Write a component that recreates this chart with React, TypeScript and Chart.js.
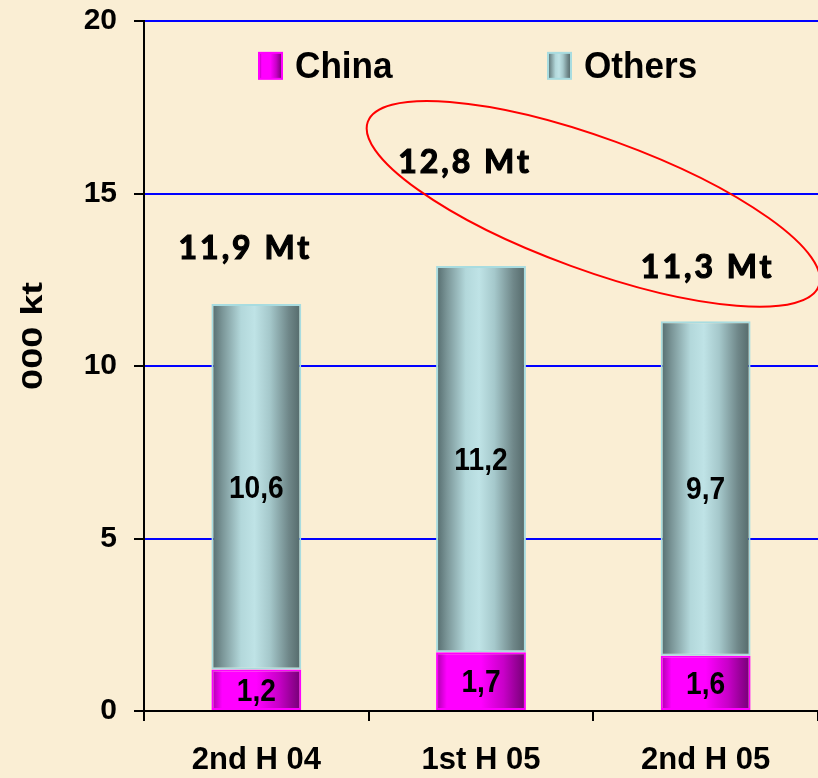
import React, { useEffect, useRef } from "react";
import { Chart, registerables } from "chart.js";

Chart.register(...registerables);

const categories = ["2nd H 04", "1st H 05", "2nd H 05"];
const chinaValues = [1.2, 1.7, 1.6];
const othersValues = [10.6, 11.2, 9.7];
const totalLabels = ["11,9 Mt", "12,8 Mt", "11,3 Mt"];
const totalLabelValues = [13.4, 15.9, 12.85];
const totalLabelShift = [-11, -16, 2];
const yTicks = [0, 5, 10, 15, 20];
const seriesNames = ["China", "Others"];

const BG = "#FAEED4";
const FONT = "'Liberation Sans', Arial, sans-serif";
const BAR_PCT = 0.4;

function othersGradient(ctx: CanvasRenderingContext2D, x0: number, x1: number) {
  const g = ctx.createLinearGradient(x0, 0, x1, 0);
  g.addColorStop(0, "#536a6c");
  g.addColorStop(0.12, "#7a9597");
  g.addColorStop(0.33, "#b3d8db");
  g.addColorStop(0.48, "#bfe3e6");
  g.addColorStop(0.65, "#a5c8cb");
  g.addColorStop(0.86, "#6f8789");
  g.addColorStop(1, "#536869");
  return g;
}
function chinaGradient(ctx: CanvasRenderingContext2D, x0: number, x1: number) {
  const g = ctx.createLinearGradient(x0, 0, x1, 0);
  g.addColorStop(0, "#a800a8");
  g.addColorStop(0.12, "#ff00ff");
  g.addColorStop(0.5, "#ff00ff");
  g.addColorStop(0.75, "#c800c8");
  g.addColorStop(1, "#720072");
  return g;
}

function barFill(kind: number) {
  return (c: any) => {
    const chart = c.chart;
    const fallback = kind === 0 ? "#ff00ff" : "#b8dde0";
    const xs = chart.scales && chart.scales.x;
    if (!xs || c.dataIndex === undefined) return fallback;
    const cx = xs.getPixelForValue(c.dataIndex);
    const w = (xs.width / categories.length) * BAR_PCT;
    if (!isFinite(cx) || !isFinite(w) || w <= 0) return fallback;
    return kind === 0
      ? chinaGradient(chart.ctx, cx - w / 2, cx + w / 2)
      : othersGradient(chart.ctx, cx - w / 2, cx + w / 2);
  };
}

const custom = {
  id: "custom",
  beforeDraw(chart: any) {
    const { ctx, width, height } = chart;
    ctx.save();
    ctx.fillStyle = BG;
    ctx.fillRect(0, 0, width, height);
    ctx.restore();
  },
  afterDatasetsDraw(chart: any) {
    const { ctx, scales } = chart;
    const xs = scales.x;
    const ys = scales.y;
    ctx.save();
    // value labels
    ctx.fillStyle = "#000";
    ctx.textAlign = "center";
    ctx.textBaseline = "middle";
    ctx.font = `bold 32px ${FONT}`;
    chart.data.datasets.forEach((ds: any, di: number) => {
      const meta = chart.getDatasetMeta(di);
      meta.data.forEach((el: any, i: number) => {
        const cy = (el.y + el.base) / 2;
        const txt = String(ds.data[i]).replace(".", ",");
        ctx.save();
        ctx.translate(el.x, cy + 2);
        ctx.scale(0.88, 1);
        ctx.fillText(txt, 0, 0);
        ctx.restore();
      });
    });
    // totals
    ctx.font = `bold 32px Lato, 'DejaVu Sans', sans-serif`;
    (ctx as any).letterSpacing = "3px";
    ctx.strokeStyle = "#000";
    ctx.lineWidth = 1.2;
    totalLabels.forEach((t, i) => {
      const tx = xs.getPixelForValue(i) + totalLabelShift[i];
      const ty = ys.getPixelForValue(totalLabelValues[i]);
      ctx.fillText(t, tx, ty);
      ctx.strokeText(t, tx, ty);
    });
    (ctx as any).letterSpacing = "0px";
    // ellipse
    const cx = (xs.getPixelForValue(1) + xs.getPixelForValue(2)) / 2;
    const cy = ys.getPixelForValue(14.7);
    ctx.beginPath();
    ctx.ellipse(cx, cy, 240, 66, (20 * Math.PI) / 180, 0, Math.PI * 2);
    ctx.strokeStyle = "#ff0000";
    ctx.lineWidth = 2;
    ctx.stroke();
    // legend
    const ly = ys.getPixelForValue(18.7);
    const items = [
      { name: seriesNames[0], x: 259, grad: chinaGradient, border: "#ff00ff" },
      { name: seriesNames[1], x: 548, grad: othersGradient, border: "#a8dce0" },
    ];
    ctx.textAlign = "left";
    ctx.font = `bold 37px ${FONT}`;
    items.forEach((it) => {
      ctx.fillStyle = it.grad(ctx, it.x, it.x + 23);
      ctx.fillRect(it.x, ly - 13, 23, 26);
      ctx.strokeStyle = it.border;
      ctx.lineWidth = 2;
      ctx.strokeRect(it.x, ly - 13, 23, 26);
      ctx.fillStyle = "#000";
      ctx.save();
      ctx.translate(it.x + 36, ly + 2);
      ctx.scale(0.95, 1);
      ctx.fillText(it.name, 0, 0);
      ctx.restore();
    });
    // y title
    ctx.save();
    ctx.translate(34, (chart.chartArea.top + chart.chartArea.bottom) / 2 - 30);
    ctx.rotate(-Math.PI / 2);
    ctx.scale(1.27, 1);
    ctx.textAlign = "center";
    ctx.font = `bold 30px ${FONT}`;
    ctx.fillText("000 kt", 0, 0);
    ctx.restore();
    ctx.restore();
  },
};

export default function App() {
  const ref = useRef<HTMLCanvasElement | null>(null);
  useEffect(() => {
    if (!ref.current) return;
    const chart = new Chart(ref.current, {
      type: "bar",
      data: {
        labels: categories,
        datasets: [
          {
            label: seriesNames[0],
            data: chinaValues,
            backgroundColor: barFill(0),
            borderColor: "#ff00ff",
            borderWidth: 2,
            borderSkipped: false,
          },
          {
            label: seriesNames[1],
            data: othersValues,
            backgroundColor: barFill(1),
            borderColor: "#a8dce0",
            borderWidth: 2,
            borderSkipped: false,
          },
        ],
      },
      options: {
        animation: false,
        responsive: false,
        maintainAspectRatio: false,
        devicePixelRatio: 1,
        layout: { padding: { top: 21, right: 0, left: 0, bottom: 0 } },
        datasets: { bar: { categoryPercentage: 1, barPercentage: BAR_PCT } },
        plugins: { legend: { display: false }, tooltip: { enabled: false }, title: { display: false } },
        scales: {
          x: {
            stacked: true,
            afterFit: (s: any) => {
              s.height = 67;
              s.paddingLeft = 0;
              s.paddingRight = 0;
            },
            grid: {
              offset: true,
              drawOnChartArea: false,
              color: "#000",
              tickColor: "#000",
              lineWidth: 2,
              tickLength: 10,
            },
            border: { color: "#000", width: 2 },
            ticks: {
              color: "#000",
              padding: 21,
              font: { family: FONT, size: 31, weight: "bold" },
            },
          },
          y: {
            stacked: true,
            min: 0,
            max: 20,
            afterFit: (s: any) => {
              s.width = 144;
              s.paddingTop = 0;
              s.paddingBottom = 0;
            },
            afterBuildTicks: (s: any) => {
              s.ticks = yTicks.map((v) => ({ value: v }));
            },
            grid: {
              color: "#0000ff",
              tickColor: "#000",
              lineWidth: 2,
              tickLength: 10,
            },
            border: { color: "#000", width: 2 },
            ticks: {
              color: "#000",
              padding: 17,
              font: { family: FONT, size: 30, weight: "bold" },
            },
          },
        },
      },
      plugins: [custom],
    });
    return () => chart.destroy();
  }, []);
  return (
    <div style={{ position: "fixed", left: 0, top: 0, width: 818, height: 778, background: BG }}>
      <canvas ref={ref} width={818} height={778} style={{ width: 818, height: 778, display: "block" }} />
    </div>
  );
}
